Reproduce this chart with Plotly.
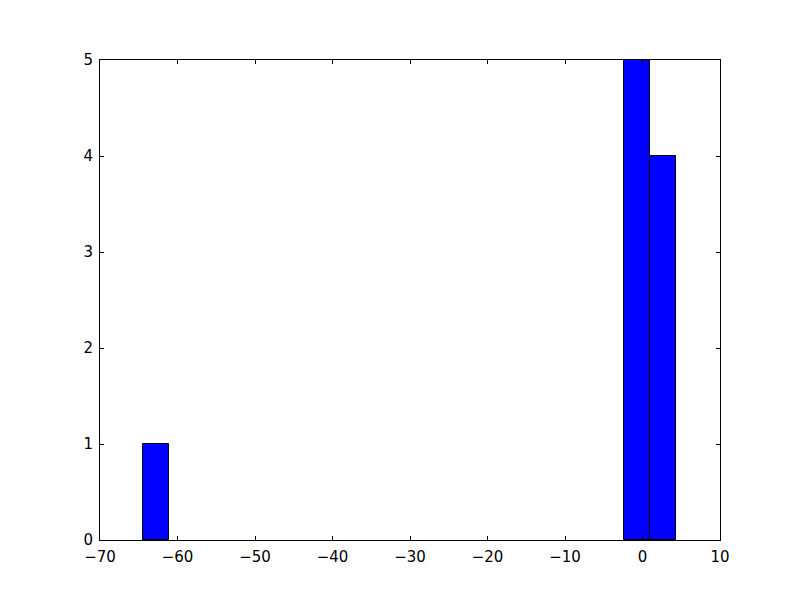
import plotly.graph_objects as go

bin_left = [-64.4, -2.4, 0.95]
bin_width = [3.35, 3.35, 3.35]
counts = [1, 5, 4]
x_ticks = [-70, -60, -50, -40, -30, -20, -10, 0, 10]
y_ticks = [0, 1, 2, 3, 4, 5]

centers = [l + w / 2 for l, w in zip(bin_left, bin_width)]

fig = go.Figure(go.Bar(
    x=centers, y=counts, width=bin_width,
    marker=dict(color="#0000ff", line=dict(color="black", width=1)),
))

axis_common = dict(
    showgrid=False, zeroline=False, showline=True, linecolor="black", linewidth=1,
    mirror="ticks", ticks="inside", ticklen=4, tickcolor="black", automargin=False,
    tickfont=dict(family="DejaVu Sans", size=15, color="black"),
)
fig.update_xaxes(range=[-70, 10], tickvals=x_ticks, ticklabelstandoff=3, **axis_common)
fig.update_yaxes(range=[0, 5], tickvals=y_ticks, ticklabelstandoff=3, **axis_common)
fig.update_layout(
    width=792, height=592,
    margin=dict(l=92, r=80, t=52, b=60, pad=0),
    plot_bgcolor="white", paper_bgcolor="white",
    showlegend=False, bargap=0,
)
fig.write_html("out.html")
